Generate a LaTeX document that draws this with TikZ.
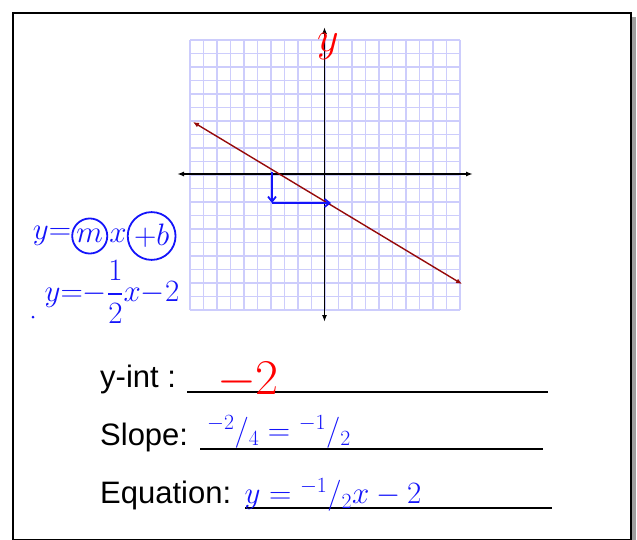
\RequirePackage{fix-cm}
\documentclass[tikz,border=0pt]{standalone}
\usepackage{amsmath,amssymb}
\usepackage{fontspec}
\setmainfont{Liberation Sans}
\usetikzlibrary{arrows.meta,positioning}

\definecolor{ink}{RGB}{20,20,250}
\definecolor{redink}{RGB}{255,0,0}
\definecolor{gridcol}{RGB}{205,205,252}
\definecolor{linecol}{RGB}{150,10,10}

\begin{document}
\begin{tikzpicture}[
  x=1pt,y=-1pt,
  gridline/.style={gridcol,line width=1.9pt},
  axis/.style={black,line width=1.8pt,{Latex[length=7pt,width=5pt]}-{Latex[length=7pt,width=5pt]}},
  graphline/.style={linecol,line width=1.4pt,{Latex[length=6pt,width=5pt]}-{Latex[length=6pt,width=5pt]}},
  label/.style={font=\fontsize{31}{36}\selectfont,inner sep=0pt,anchor=base west},
  answerline/.style={black,line width=2pt},
  hand/.style={ink,font=\fontsize{31}{34}\selectfont,inner sep=0pt},
  ring/.style={draw,circle,line width=1.8pt,inner sep=2pt},
  handarrow/.style={ink,line width=1.8pt,-{Straight Barb[length=5pt,width=8pt]}}
]
\useasboundingbox (0,0) rectangle (637,540);

% frame with shadow
\fill[gray!75] (632,17) rectangle (636,540);
\draw[line width=2pt] (12.5,13) rectangle (630.5,539.5);

% grid
\foreach \k in {0,...,20} {
  \draw[gridline] ({190+13.5*\k},40) -- ({190+13.5*\k},310);
  \draw[gridline] (190,{40+13.5*\k}) -- (460,{40+13.5*\k});
}

% axes
\draw[axis] (177,174) -- (473,174);
\draw[axis] (324.5,27) -- (324.5,322);
\node[hand,redink,font=\fontsize{42}{44}\selectfont] (ylabel) at (328,47) {$y$};

% the line
\coordinate (p1) at (193,122);
\coordinate (p2) at (462,284);
\draw[graphline] (p1) -- (p2);

% rise and run
\coordinate (xcross) at (272,172);
\coordinate (corner) at (272,203);
\coordinate (bpt) at (331,203);
\draw[handarrow] (xcross) -- (corner);
\draw[handarrow] (corner) -- (bpt);

% slope-intercept form
\node[hand] (gy) at (52,236) {$y{=}$};
\node[hand,ring,right=0pt of gy] (gm) {$m$};
\node[hand,right=1pt of gm] (gx) {$x$};
\node[hand,ring,right=0pt of gx] (gb) {$+b$};
\node[hand] (spec) at (112,292) {$y{=}{-}\dfrac{1}{2}x{-}2$};
\fill[ink] (33,317) circle (1.5pt);

% answers
\node[label] (yint) at (100,387) {y-int :};
\node[label] (slope) at (100,445) {Slope:};
\node[label] (eqn) at (100,503) {Equation:};
\draw[answerline] (187,392) -- (548,392);
\draw[answerline] (200,449) -- (543,449);
\draw[answerline] (245,508) -- (552,508);

\node[hand,redink,font=\fontsize{50}{54}\selectfont] (yintval) at (248,380) {$-2$};
\node[hand,font=\fontsize{31}{34}\selectfont] (slopeval) at (279,432) {${}^{-2}/{}_{4}={}^{-1}/{}_{2}$};
\node[hand,font=\fontsize{31}{34}\selectfont] (eqnval) at (333,495) {$y={}^{-1}/{}_{2}x-2$};
\end{tikzpicture}
\end{document}
